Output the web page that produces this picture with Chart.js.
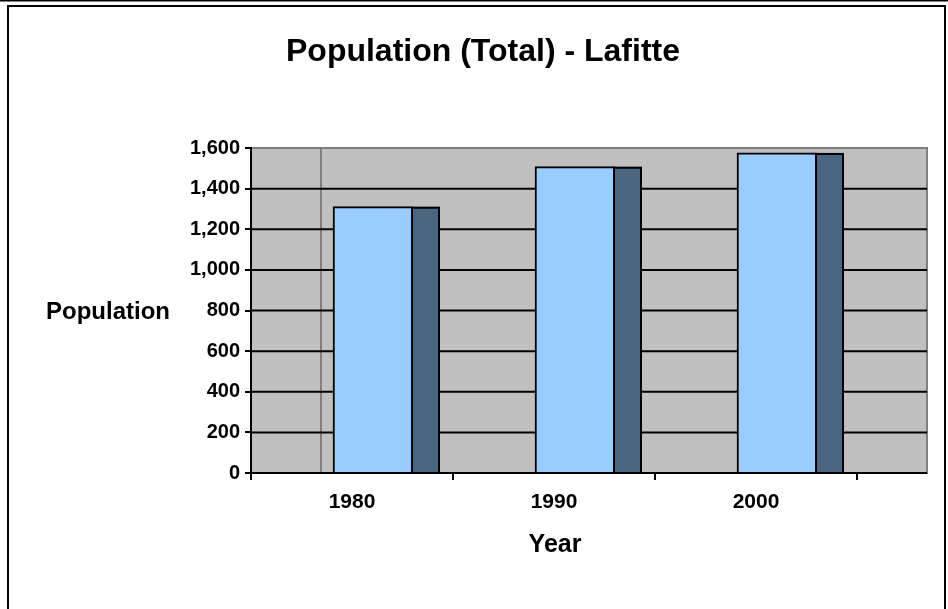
<!DOCTYPE html>
<html>
<head>
<meta charset="utf-8">
<script src="https://cdn.jsdelivr.net/npm/chart.js@4"></script>
<style>
  html, body { margin: 0; padding: 0; background: #fff; }
  canvas { display: block; }
</style>
</head>
<body>
<canvas id="c" width="948" height="609"></canvas>
<script>
// ---- data ----
const years = ['1980', '1990', '2000'];
const population = [1311, 1508, 1576];
const yMin = 0;
const yMax = 1600;
const yStep = 200;
const chartTitle = 'Population (Total) - Lafitte';
const xTitle = 'Year';
const yTitle = 'Population';

// ---- style ----
const FONT = '"Liberation Sans", Arial, sans-serif';
const DEPTH = 70;        // 3D depth of the back wall
const FRONT_SHIFT = 21;  // front face shift inside the category
const SIDE = 28;         // visible width of the side face
const FRONT_COLOR = '#99CCFF';
const SIDE_COLOR = '#4A6580';
const WALL_COLOR = '#C0C0C0';

const wallPlugin = {
  id: 'wall',
  beforeDraw(chart) {
    const ctx = chart.ctx, ca = chart.chartArea, ys = chart.scales.y;
    ctx.save();
    ctx.fillStyle = '#fff';
    ctx.fillRect(0, 0, chart.width, chart.height);
    // outer frame
    ctx.strokeStyle = '#000';
    ctx.lineWidth = 1.5;
    ctx.beginPath(); ctx.moveTo(0, 0.75); ctx.lineTo(chart.width, 0.75); ctx.stroke();
    ctx.lineWidth = 2;
    ctx.strokeRect(8, 6, 937, 640);
    // wall
    const right = ca.right + DEPTH;
    ctx.fillStyle = WALL_COLOR;
    ctx.fillRect(ca.left, ca.top, right - ca.left, ca.bottom - ca.top);
    ctx.strokeStyle = '#808080';
    ctx.lineWidth = 2;
    ctx.beginPath();
    ctx.moveTo(ca.left, ca.top); ctx.lineTo(right, ca.top);
    ctx.lineTo(right, ca.bottom); ctx.lineTo(ca.right, ca.bottom);
    ctx.moveTo(ca.left + DEPTH, ca.top); ctx.lineTo(ca.left + DEPTH, ca.bottom);
    ctx.stroke();
    // gridlines
    ctx.strokeStyle = '#000';
    ctx.lineWidth = 2;
    ys.ticks.forEach(t => {
      if (t.value >= yMax) return;
      const y = ys.getPixelForValue(t.value);
      ctx.beginPath(); ctx.moveTo(ca.left, y); ctx.lineTo(right, y); ctx.stroke();
    });
    ctx.restore();
  },
  beforeDatasetDraw(chart) {
    chart.ctx.save();
    chart.ctx.translate(FRONT_SHIFT, 0);
  },
  afterDatasetDraw(chart, args) {
    const ctx = chart.ctx;
    args.meta.data.forEach(el => {
      const p = el.getProps(['x', 'y', 'base', 'width'], true);
      const x0 = p.x + p.width / 2;
      const h = p.base - p.y;
      ctx.fillStyle = SIDE_COLOR;
      ctx.fillRect(x0 - 1, p.y, SIDE, h);
      ctx.strokeStyle = '#000';
      ctx.lineWidth = 2;
      ctx.beginPath();
      ctx.moveTo(x0 - 1, p.base);
      ctx.lineTo(x0 - 1, p.y + 1);
      ctx.lineTo(x0 + SIDE - 2, p.y + 1);
      ctx.lineTo(x0 + SIDE - 2, p.base);
      ctx.stroke();
    });
    ctx.restore();
  },
  afterDraw(chart) {
    const ctx = chart.ctx;
    ctx.save();
    ctx.fillStyle = '#000';
    ctx.textAlign = 'center';
    ctx.textBaseline = 'middle';
    ctx.font = 'bold 32px ' + FONT;
    ctx.fillText(chartTitle, 483, 52);
    ctx.font = 'bold 24px ' + FONT;
    ctx.fillText(yTitle, 108, 312);
    ctx.font = 'bold 25px ' + FONT;
    ctx.fillText(xTitle, 555, 545);
    ctx.restore();
  }
};

new Chart(document.getElementById('c'), {
  type: 'bar',
  data: {
    labels: years,
    datasets: [{
      data: population,
      backgroundColor: FRONT_COLOR,
      borderColor: '#000',
      borderWidth: 2,
      barThickness: 80
    }]
  },
  options: {
    responsive: false,
    devicePixelRatio: 1,
    animation: false,
    layout: { padding: { top: 148, right: 91, left: 0, bottom: 0 } },
    plugins: { legend: { display: false }, title: { display: false }, tooltip: { enabled: false } },
    scales: {
      x: {
        offset: true,
        grid: { offset: true, drawOnChartArea: false, drawTicks: true, tickLength: 7, color: '#000', lineWidth: 2 },
        border: { display: true, color: '#000', width: 2 },
        ticks: { color: '#000', font: { family: FONT, size: 21, weight: 'bold' }, padding: 10 },
        afterFit(s) { s.height = 136; }
      },
      y: {
        min: yMin, max: yMax,
        grid: { drawOnChartArea: false, drawTicks: true, tickLength: 6, color: '#000', lineWidth: 2 },
        border: { display: true, color: '#000', width: 2 },
        ticks: {
          stepSize: yStep, color: '#000', padding: 5,
          font: { family: FONT, size: 20, weight: 'bold' },
          callback: v => v.toLocaleString('en-US')
        },
        afterFit(s) { s.width = 251; }
      }
    }
  },
  plugins: [wallPlugin]
});
</script>
</body>
</html>
